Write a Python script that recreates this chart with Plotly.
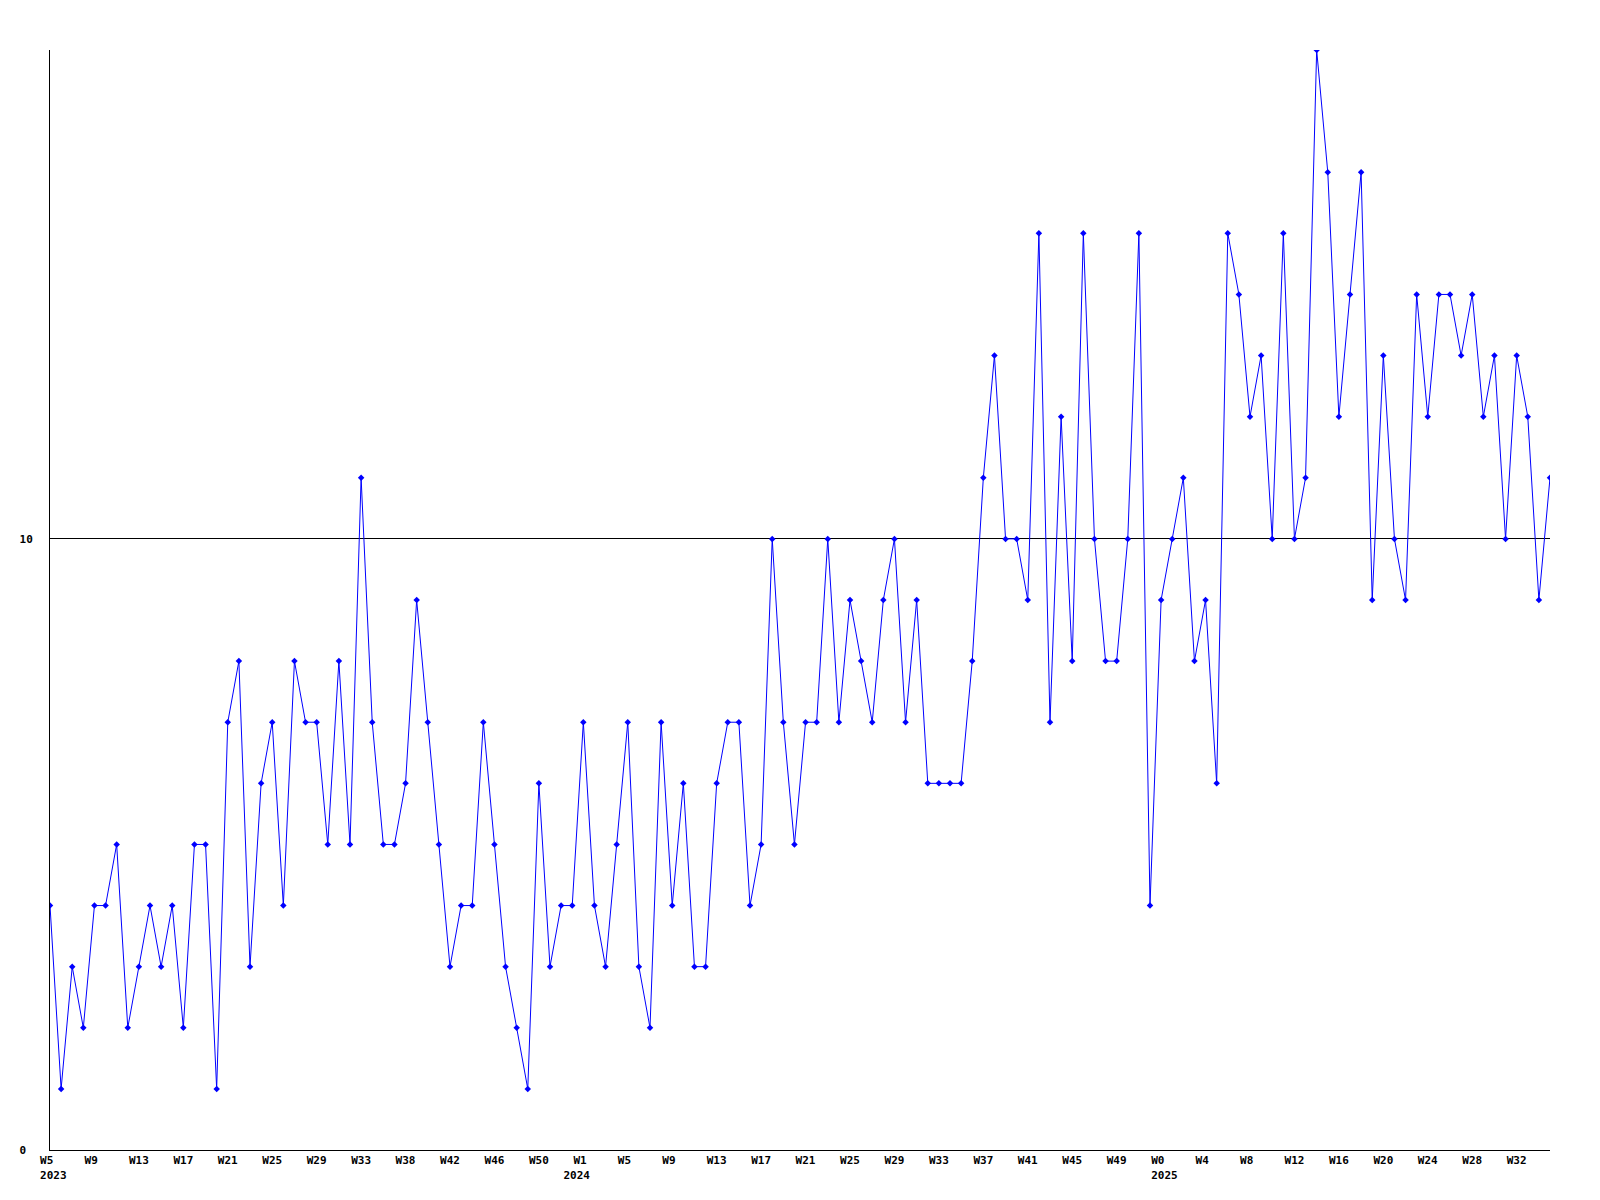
import plotly.graph_objects as go

# weekly values, starting at 2023 W5
values = [
    4, 1, 3, 2, 4, 4, 5, 2, 3, 4, 3, 4, 2, 5, 5, 1, 7, 8, 3, 6,
    7, 4, 8, 7, 7, 5, 8, 5, 11, 7, 5, 5, 6, 9, 7, 5, 3, 4, 4, 7,
    5, 3, 2, 1, 6, 3, 4, 4, 7, 4, 3, 5, 7, 3, 2, 7, 4, 6, 3, 3,
    6, 7, 7, 4, 5, 10, 7, 5, 7, 7, 10, 7, 9, 8, 7, 9, 10, 7, 9, 6,
    6, 6, 6, 8, 11, 13, 10, 10, 9, 15, 7, 12, 8, 15, 10, 8, 8, 10, 15, 4,
    9, 10, 11, 8, 9, 6, 15, 14, 12, 13, 10, 15, 10, 11, 18, 16, 12, 14, 16, 9,
    13, 10, 9, 14, 12, 14, 14, 13, 14, 12, 13, 10, 13, 12, 9, 11,
]

tick_labels = [
    "W5", "W9", "W13", "W17", "W21", "W25", "W29", "W33", "W38", "W42", "W46", "W50",
    "W1", "W5", "W9", "W13", "W17", "W21", "W25", "W29", "W33", "W37", "W41", "W45", "W49",
    "W0", "W4", "W8", "W12", "W16", "W20", "W24", "W28", "W32",
]
year_labels = {0: "2023", 12: "2024", 25: "2025"}

y_ticks = [0, 10]
y_tick_labels = ["0", "10"]

NB = "\u00a0"
x = list(range(len(values)))
tickvals = [i * 4 for i in range(len(tick_labels))]
# monospace padding mimics the reference's left-aligned label placement
year_pad = {0: (1, 0), 12: (0, 2), 25: (1, 0)}
ticktext = []
for i, lab in enumerate(tick_labels):
    t = lab + NB * (3 - len(lab)) if len(lab) < 3 else lab
    if i in year_labels:
        lead, trail = year_pad[i]
        t += "<br>" + NB * lead + year_labels[i] + NB * trail
    ticktext.append(t)

FONT = dict(family="DejaVu Sans Mono", size=11, color="#000000", weight="bold")

fig = go.Figure()
fig.add_trace(go.Scatter(
    x=x, y=values, mode="lines+markers",
    line=dict(color="#0000ff", width=1),
    marker=dict(symbol="diamond", size=5, color="#0000ff"),
    showlegend=False,
    hoverinfo="x+y",
))

fig.update_layout(
    width=1600, height=1200,
    margin=dict(l=50, r=50, t=50, b=50),
    paper_bgcolor="white", plot_bgcolor="white",
    font=FONT,
    xaxis=dict(
        range=[0, len(values) - 1],
        tickmode="array", tickvals=tickvals, ticktext=ticktext,
        showgrid=False, zeroline=False,
        showline=True, linecolor="black", linewidth=1,
        ticks="", tickfont=FONT,
    ),
    yaxis=dict(
        range=[0, 18],
        tickmode="array", tickvals=y_ticks,
        ticktext=[t + NB * (2 - len(t)) for t in y_tick_labels],
        showgrid=True, gridcolor="black", gridwidth=1,
        zeroline=False,
        showline=True, linecolor="black", linewidth=1,
        ticks="", tickfont=FONT,
        ticklabelstandoff=14,
    ),
)

fig.write_html(
    "out.html",
    config={"displayModeBar": False},
    post_script="document.body.style.margin='0';document.body.style.overflow='hidden';",
)
